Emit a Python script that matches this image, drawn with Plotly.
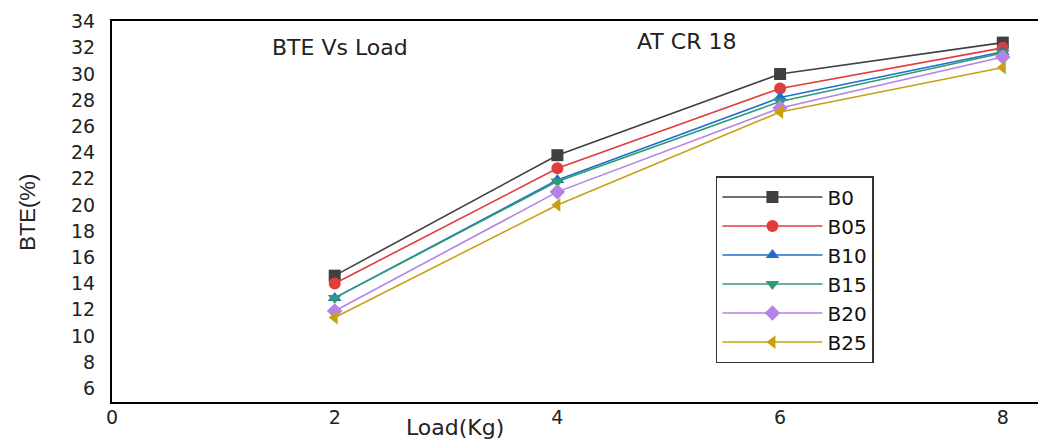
import plotly.graph_objects as go

load = [2, 4, 6, 8]
series_names = ["B0", "B05", "B10", "B15", "B20", "B25"]
b0 = [14.6, 23.8, 30.0, 32.4]
b05 = [14.0, 22.8, 28.9, 32.0]
b10 = [12.9, 21.9, 28.2, 31.7]
b15 = [12.9, 21.8, 27.9, 31.6]
b20 = [11.9, 21.0, 27.4, 31.3]
b25 = [11.4, 20.0, 27.1, 30.5]
values = [b0, b05, b10, b15, b20, b25]
y_ticks = list(range(6, 35, 2))
x_ticks = [0, 2, 4, 6, 8]

colors = ["#404040", "#e23c3c", "#1f6fd0", "#2e9b70", "#b583e6", "#c9a012"]
symbols = ["square", "circle", "triangle-up", "triangle-down", "diamond", "triangle-left"]

fig = go.Figure()
for name, vals, c, s in zip(series_names, values, colors, symbols):
    fig.add_trace(go.Scatter(
        x=load, y=vals, name=name, mode="lines+markers",
        line=dict(color=c, width=1.6),
        marker=dict(symbol=s, size=12, color=c),
    ))

font_family = "Liberation Sans, Arial, sans-serif"
wide_family = "DejaVu Sans, Liberation Sans, sans-serif"
fig.update_layout(
    width=1038, height=433,
    margin=dict(l=104, r=2, t=8, b=39),
    paper_bgcolor="white", plot_bgcolor="white",
    font=dict(family=font_family, color="#222", size=18),
    showlegend=True,
    legend=dict(
        x=0.648, y=0.593, xanchor="left", yanchor="top",
        bordercolor="#333", borderwidth=1.5, bgcolor="white",
        font=dict(size=20, family=wide_family, color="#111"),
        itemwidth=100, tracegroupgap=0,
    ),
    xaxis=dict(
        range=[0, 8.37], tickvals=x_ticks, showgrid=False, zeroline=False,
        showline=True, linecolor="black", linewidth=2, mirror=True,
        ticks="", ticklabelstandoff=-3,
        tickfont=dict(size=19, family=wide_family, color="#222"),
    ),
    yaxis=dict(
        range=[4.95, 34.05], tickvals=y_ticks, showgrid=False, zeroline=False,
        showline=True, linecolor="black", linewidth=2, mirror=False,
        ticks="", ticklabelstandoff=11, ticklabeloverflow="allow",
        tickfont=dict(size=19, family=wide_family, color="#222"),
    ),
    annotations=[
        dict(text="BTE(%)", xref="paper", yref="paper", x=-0.090, y=0.497,
             textangle=-90, showarrow=False, font=dict(size=22, family=font_family, color="#222"),
             xanchor="center", yanchor="middle"),
        dict(text="Load(Kg)", xref="paper", yref="paper", x=0.368, y=-0.067,
             showarrow=False, font=dict(size=22, family=wide_family, color="#222"),
             xanchor="center", yanchor="middle"),
        dict(text="BTE Vs Load", xref="paper", yref="paper", x=0.1695, y=0.930,
             showarrow=False, font=dict(size=22, family=wide_family, color="#222"),
             xanchor="left", yanchor="middle"),
        dict(text="AT CR 18", xref="paper", yref="paper", x=0.561, y=0.946,
             showarrow=False, font=dict(size=22, family=wide_family, color="#222"),
             xanchor="left", yanchor="middle"),
    ],
)

fig.write_html("out.html")
